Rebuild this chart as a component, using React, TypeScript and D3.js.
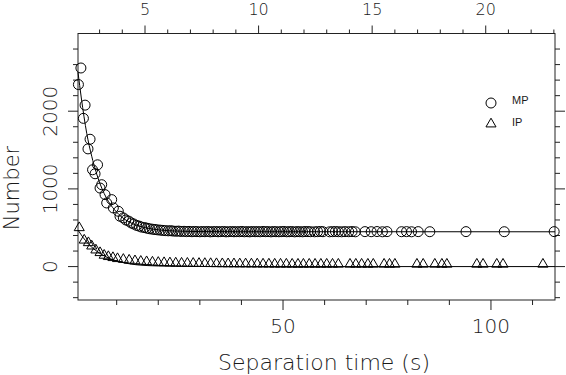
import React, { useEffect, useRef } from "react";
import * as d3 from "d3";

// separation time (s) and counts
const mpTime = [0.8, 1.4, 2.0, 2.4, 3.1, 3.6, 4.2, 4.8, 5.4, 6.0, 6.4, 7.2, 7.6, 8.8, 9.2, 10.4, 10.8, 11.6,
  12.2, 12.9, 13.5, 14.1, 14.8, 15.4, 16.0, 16.7, 17.3, 17.9, 18.6, 19.2, 19.8, 20.5, 21.1, 21.7, 22.4, 23.0,
  23.6, 24.3, 24.9, 25.5, 26.2, 26.8, 27.4, 28.1, 28.7, 29.3, 30.0, 30.6, 31.2, 31.9, 32.5, 33.1, 33.8, 34.4,
  35.0, 35.7, 36.3, 36.9, 37.6, 38.2, 38.8, 39.5, 40.1, 40.7, 41.4, 42.0, 42.6, 43.3, 43.9, 44.5, 45.2, 45.8,
  46.4, 47.1, 47.7, 48.3, 49.0, 49.6, 50.2, 50.9, 51.5, 52.1, 52.8, 53.4, 54.0, 54.7, 55.3, 56.0, 56.6, 57.6,
  58.3, 59.0, 59.6, 61.2, 61.9, 62.6, 63.3, 64.1, 64.9, 65.8, 66.6, 67.4, 69.7, 71.2, 72.6, 73.9, 75.0,
  78.5, 79.7, 80.9, 82.5, 85.3, 94.0, 103.2, 115.2];
const mpCount = [2343, 2556, 1908, 2078, 1515, 1639, 1246, 1195, 1310, 1011, 1054, 926, 819, 862, 755, 712, 648, 627,
  600, 585, 562, 548, 530, 521, 508, 502, 494, 487, 481, 477, 473, 469, 466, 463, 460, 462,
  457, 455, 457, 452, 454, 450, 453, 449, 452, 450, 448, 451, 449, 452, 447, 450, 451, 448,
  450, 452, 447, 449, 451, 448, 450, 449, 452, 448, 450, 447, 451, 449, 450, 448, 452, 449,
  450, 447, 451, 449, 448, 450, 452, 448, 449, 451, 447, 450, 449, 448, 451, 450, 449, 448,
  450, 452, 449, 448, 450, 451, 449, 448, 450, 449, 451, 448, 450, 449, 451, 448, 450,
  449, 450, 448, 450, 449, 450, 449, 450];

const ipTime = [1.0, 2.2, 3.2, 4.0, 5.0, 6.0, 7.0, 8.0, 9.1, 10.2, 11.6, 13.0, 14.4, 15.8, 17.2, 18.6, 20.0,
  21.4, 22.8, 24.2, 25.6, 27.0, 28.4, 29.8, 31.2, 32.6, 34.0, 35.4, 36.8, 38.2, 39.6, 41.0, 42.4, 43.8, 45.2,
  46.6, 48.0, 49.4, 50.8, 52.2, 53.6, 54.9, 56.3, 57.7, 59.1, 60.5, 61.9, 63.3, 66.1, 67.5, 68.9, 70.4, 71.7,
  74.3, 75.6, 76.9, 82.2, 83.7, 86.5, 88.2, 89.4, 96.6, 98.1, 101.4, 102.9, 112.5];
const ipCount = [500, 340, 307, 264, 213, 179, 145, 128, 115, 102, 92, 82, 74, 67, 62, 57, 53,
  50, 47, 45, 43, 42, 41, 40, 39, 38, 37, 36, 35, 35, 34, 34, 33, 33, 32,
  32, 31, 31, 31, 30, 30, 30, 30, 30, 30, 30, 30, 30, 30, 30, 30, 30, 30,
  30, 30, 30, 30, 30, 30, 30, 30, 30, 30, 30, 30, 30];

// fitted curves
const mpFitTime = [0.7, 1.5, 2.8, 4, 5, 6, 7, 8, 10, 12, 14, 17, 20, 25, 30, 40, 115.4];
const mpFitCount = [2500, 2170, 1716, 1420, 1225, 1066, 940, 840, 700, 606, 548, 500, 473, 456, 451, 449, 448];
const ipFitTime = [0.7, 2, 4, 6, 8, 10, 12, 15, 20, 25, 30, 40, 115.4];
const ipFitCount = [470, 370, 250, 170, 112, 72, 46, 22, 8, 3, 1, 0, 0];

const bottomTicks = [10, 20, 30, 40, 50, 60, 70, 80, 90, 100, 110];
const bottomLabels = [50, 100];
const topTicks = [3, 4, 5, 6, 7, 8, 9, 10, 11, 12, 13, 14, 15, 16, 17, 18, 19, 20, 21, 22, 23];
const topLabels = [5, 10, 15, 20];
const yTicks = [-400, -200, 0, 200, 400, 600, 800, 1000, 1200, 1400, 1600, 1800, 2000, 2200, 2400, 2600, 2800];
const yLabels = [0, 1000, 2000];

const series = ["MP", "IP"];

const App = () => {
  const svgRef = useRef(null);

  useEffect(() => {
    const width = 566;
    const height = 375;
    const left = 78, right = 555, top = 33.5, bottom = 300;
    const font = "DejaVu Sans";
    const ink = "#1a1a1a";

    const svg = d3.select(svgRef.current);
    svg.selectAll("*").remove();
    svg.attr("width", width).attr("height", height);

    const x = d3.scaleLinear().domain([0.7, 115.4]).range([left, right]);
    const xTop = d3.scaleLinear().domain([2.05, 23.05]).range([left, right]);
    const y = d3.scaleLinear().domain([-430, 3000]).range([bottom, top]);

    // frame
    svg.append("rect")
      .attr("x", left).attr("y", top)
      .attr("width", right - left).attr("height", bottom - top)
      .attr("fill", "none").attr("stroke", "#222").attr("stroke-width", 1);

    const ticks = svg.append("g").attr("stroke", "#222").attr("stroke-width", 1);

    // bottom axis
    bottomTicks.forEach((v) => {
      const len = bottomLabels.includes(v) ? 10 : 5;
      ticks.append("line").attr("x1", x(v)).attr("x2", x(v)).attr("y1", bottom).attr("y2", bottom + len);
    });
    svg.selectAll("text.bl").data(bottomLabels).join("text")
      .attr("class", "bl")
      .attr("x", (d) => x(d)).attr("y", 333)
      .attr("text-anchor", "middle")
      .attr("font-family", font).attr("font-weight", 200).attr("font-size", 20).attr("fill", ink)
      .text((d) => d);

    // top axis
    topTicks.forEach((v) => {
      const len = topLabels.includes(v) ? 8 : 4;
      ticks.append("line").attr("x1", xTop(v)).attr("x2", xTop(v)).attr("y1", top).attr("y2", top - len);
    });
    svg.selectAll("text.tl").data(topLabels).join("text")
      .attr("class", "tl")
      .attr("x", (d) => xTop(d)).attr("y", 15)
      .attr("text-anchor", "middle")
      .attr("font-family", font).attr("font-weight", 200).attr("font-size", 16).attr("fill", ink)
      .text((d) => d);

    // left and right axes
    yTicks.forEach((v) => {
      const len = yLabels.includes(v) ? 10 : 5;
      ticks.append("line").attr("x1", left).attr("x2", left - len).attr("y1", y(v)).attr("y2", y(v));
      ticks.append("line").attr("x1", right).attr("x2", right + len).attr("y1", y(v)).attr("y2", y(v));
    });
    svg.selectAll("text.yl").data(yLabels).join("text")
      .attr("class", "yl")
      .attr("transform", (d) => `translate(57,${y(d)}) rotate(-90)`)
      .attr("text-anchor", "middle")
      .attr("font-family", font).attr("font-weight", 200).attr("font-size", 20).attr("fill", ink)
      .text((d) => d);

    // axis titles
    svg.append("text")
      .attr("x", 324).attr("y", 370)
      .attr("text-anchor", "middle")
      .attr("font-family", font).attr("font-weight", 200).attr("font-size", 22).attr("fill", ink)
      .text("Separation time (s)");
    svg.append("text")
      .attr("transform", "translate(18.5,188) rotate(-90)")
      .attr("text-anchor", "middle")
      .attr("font-family", font).attr("font-weight", 200).attr("font-size", 21).attr("fill", ink)
      .text("Number");

    // fitted curves
    const line = d3.line().x((d) => x(d[0])).y((d) => y(d[1])).curve(d3.curveMonotoneX);
    const plot = svg.append("g");
    plot.append("path")
      .attr("d", line(mpFitTime.map((t, i) => [t, mpFitCount[i]])))
      .attr("fill", "none").attr("stroke", "#000").attr("stroke-width", 1);
    plot.append("path")
      .attr("d", line(ipFitTime.map((t, i) => [t, ipFitCount[i]])))
      .attr("fill", "none").attr("stroke", "#000").attr("stroke-width", 1);

    // MP circles
    plot.selectAll("circle.mp").data(mpTime.map((t, i) => [t, mpCount[i]])).join("circle")
      .attr("class", "mp")
      .attr("cx", (d) => x(d[0])).attr("cy", (d) => y(d[1])).attr("r", 5)
      .attr("fill", "none").attr("stroke", "#000").attr("stroke-width", 1);

    // IP triangles
    const tri = d3.symbol().type(d3.symbolTriangle).size(44);
    plot.selectAll("path.ip").data(ipTime.map((t, i) => [t, ipCount[i]])).join("path")
      .attr("class", "ip")
      .attr("transform", (d) => `translate(${x(d[0])},${y(d[1])})`)
      .attr("d", tri())
      .attr("fill", "none").attr("stroke", "#000").attr("stroke-width", 1);

    // legend
    const legend = svg.append("g");
    legend.append("circle").attr("cx", 491).attr("cy", 103).attr("r", 5)
      .attr("fill", "none").attr("stroke", "#000");
    legend.append("path").attr("transform", "translate(491,124)").attr("d", tri())
      .attr("fill", "none").attr("stroke", "#000");
    legend.selectAll("text").data(series).join("text")
      .attr("x", 512).attr("y", (d, i) => 104 + i * 22)
      .attr("font-family", "Liberation Sans").attr("font-size", 11).attr("fill", ink)
      .text((d) => d);
  }, []);

  return <svg ref={svgRef} style={{ position: "absolute", left: 0, top: 0 }}></svg>;
};

export default App;
